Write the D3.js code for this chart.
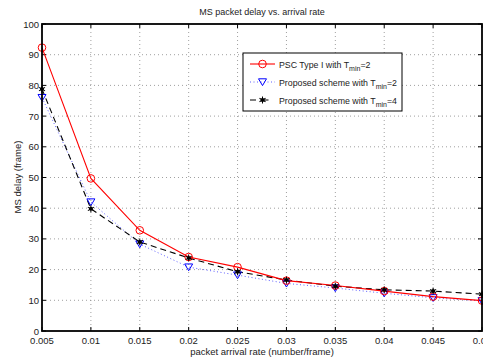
<!DOCTYPE html>
<html><head><meta charset="utf-8">
<script src="https://cdn.jsdelivr.net/npm/d3@7"></script>
<style>body{margin:0;background:#fff}svg{display:block;font-family:"Liberation Sans",Arial,sans-serif}</style>
</head><body><svg id="c" width="483" height="361"></svg>
<script>
const xValues=[0.005,0.01,0.015,0.02,0.025,0.03,0.035,0.04,0.045,0.05];
const pscType1=[92.3,49.7,32.8,24.1,20.8,16.4,14.8,13.0,11.2,9.9];
const proposedT2=[76.0,42.0,28.3,20.8,18.2,15.5,14.0,12.3,10.8,9.8];
const proposedT4=[78.8,39.8,29.0,23.8,19.3,16.6,14.6,13.4,13.0,12.0];
const xTicks=[0.005,0.01,0.015,0.02,0.025,0.03,0.035,0.04,0.045,0.05];
const xTickLabels=["0.005","0.01","0.015","0.02","0.025","0.03","0.035","0.04","0.045","0.05"];
const yTicks=[0,10,20,30,40,50,60,70,80,90,100];

const svg=d3.select("#c");
const L=42,R=482,T=24,B=331;
const x=d3.scaleLinear().domain([0.005,0.05]).range([L,R]);
const y=d3.scaleLinear().domain([0,100]).range([B,T]);
const g=svg.append("g");
g.append("rect").attr("x",L).attr("y",T).attr("width",R-L).attr("height",B-T).attr("fill","#fff");
// grid
xTicks.slice(1,-1).forEach(v=>g.append("line").attr("x1",x(v)).attr("x2",x(v)).attr("y1",T).attr("y2",B).attr("stroke","#888").attr("stroke-width",0.8).attr("stroke-dasharray","1,3"));
yTicks.slice(1,-1).forEach(v=>g.append("line").attr("x1",L).attr("x2",R).attr("y1",y(v)).attr("y2",y(v)).attr("stroke","#888").attr("stroke-width",0.8).attr("stroke-dasharray","1,3"));
// ticks inside
xTicks.forEach(v=>{g.append("line").attr("x1",x(v)).attr("x2",x(v)).attr("y1",B).attr("y2",B-4).attr("stroke","#000");g.append("line").attr("x1",x(v)).attr("x2",x(v)).attr("y1",T).attr("y2",T+4).attr("stroke","#000");});
yTicks.forEach(v=>{g.append("line").attr("x1",L).attr("x2",L+4).attr("y1",y(v)).attr("y2",y(v)).attr("stroke","#000");g.append("line").attr("x1",R).attr("x2",R-4).attr("y1",y(v)).attr("y2",y(v)).attr("stroke","#000");});
// tick labels
xTicks.forEach((v,i)=>g.append("text").attr("x",x(v)).attr("y",B+13).attr("text-anchor","middle").attr("font-size",9.5).attr("fill","#222").text(xTickLabels[i]));
yTicks.forEach(v=>g.append("text").attr("x",L-3).attr("y",y(v)+3.5).attr("text-anchor","end").attr("font-size",9.5).attr("fill","#222").text(v));
// lines
const line=d3.line().x((d,i)=>x(xValues[i])).y(d=>y(d));
g.append("path").datum(proposedT2).attr("d",line).attr("fill","none").attr("stroke","#6060ff").attr("stroke-width",1).attr("stroke-dasharray","1,2.5");
g.append("path").datum(proposedT4).attr("d",line).attr("fill","none").attr("stroke","#000").attr("stroke-width",1.1).attr("stroke-dasharray","6,4");
g.append("path").datum(pscType1).attr("d",line).attr("fill","none").attr("stroke","#ff0000").attr("stroke-width",1.1);
// markers
const tri=s=>`M${-s},${-s*0.8}L${s},${-s*0.8}L0,${s*0.9}Z`;
proposedT2.forEach((v,i)=>g.append("path").attr("d",tri(4)).attr("transform",`translate(${x(xValues[i])},${y(v)})`).attr("fill","none").attr("stroke","#0000ff").attr("stroke-width",1));
pscType1.forEach((v,i)=>g.append("circle").attr("cx",x(xValues[i])).attr("cy",y(v)).attr("r",3.8).attr("fill","none").attr("stroke","#ff0000").attr("stroke-width",1));
proposedT4.forEach((v,i)=>{
  const cx=x(xValues[i]),cy=y(v);
  g.append("circle").attr("cx",cx).attr("cy",cy).attr("r",2).attr("fill","#000");
  [0,60,120].forEach(a=>g.append("line").attr("x1",-3.5).attr("x2",3.5).attr("y1",0).attr("y2",0).attr("transform",`translate(${cx},${cy}) rotate(${a+90})`).attr("stroke","#000").attr("stroke-width",1));
});
// box
g.append("rect").attr("x",L).attr("y",T).attr("width",R-L).attr("height",B-T).attr("fill","none").attr("stroke","#000").attr("stroke-width",1.8);
// title and labels
svg.append("text").attr("x",262).attr("y",15).attr("text-anchor","middle").attr("font-size",9).attr("fill","#222").text("MS packet delay vs. arrival rate");
svg.append("text").attr("x",262).attr("y",355).attr("text-anchor","middle").attr("font-size",9.5).attr("fill","#222").text("packet arrival rate (number/frame)");
svg.append("text").attr("transform","translate(21,177) rotate(-90)").attr("text-anchor","middle").attr("font-size",9.5).attr("fill","#222").text("MS delay (frame)");
// legend
const lg=svg.append("g");
lg.append("rect").attr("x",243).attr("y",53).attr("width",159).attr("height",58).attr("fill","#fff").attr("stroke","#000").attr("stroke-width",1);
const rows=[{lab:"PSC Type I with T",sub:"min",end:"=2",y:64},{lab:"Proposed scheme with T",sub:"min",end:"=2",y:82},{lab:"Proposed scheme with T",sub:"min",end:"=4",y:100}];
lg.append("line").attr("x1",250).attr("x2",275).attr("y1",64).attr("y2",64).attr("stroke","#f00").attr("stroke-width",1.1);
lg.append("circle").attr("cx",262.5).attr("cy",64).attr("r",3.8).attr("fill","none").attr("stroke","#f00");
lg.append("line").attr("x1",250).attr("x2",275).attr("y1",82).attr("y2",82).attr("stroke","#6060ff").attr("stroke-dasharray","1,2.5");
lg.append("path").attr("d",tri(4)).attr("transform","translate(262.5,82)").attr("fill","none").attr("stroke","#00f");
lg.append("line").attr("x1",250).attr("x2",275).attr("y1",100).attr("y2",100).attr("stroke","#000").attr("stroke-width",1.1).attr("stroke-dasharray","6,6.5");
lg.append("circle").attr("cx",262.5).attr("cy",100).attr("r",2).attr("fill","#000");
[0,60,120].forEach(a=>lg.append("line").attr("x1",-3.5).attr("x2",3.5).attr("transform",`translate(262.5,100) rotate(${a+90})`).attr("stroke","#000"));
rows.forEach(r=>{
  const t=lg.append("text").attr("x",279).attr("y",r.y+3.5).attr("font-size",8.8).attr("fill","#222");
  t.append("tspan").text(r.lab);
  t.append("tspan").attr("dy",3.5).attr("font-size",7).text(r.sub);
  t.append("tspan").attr("dy",-3.5).text(r.end);
});
</script></body></html>
